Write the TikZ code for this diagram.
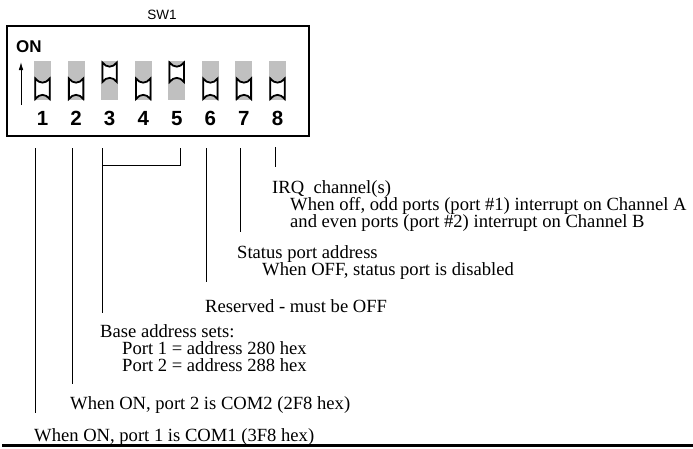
\documentclass[tikz,border=0pt]{standalone}
\usepackage{fontspec}
\setmainfont{Liberation Serif}
\newfontfamily\labelsans{Liberation Sans}
\usetikzlibrary{arrows.meta}
\definecolor{swgray}{RGB}{192,192,192}
\begin{document}
\begin{tikzpicture}[x=1pt,y=-1pt,
  sbox/.style={draw, line width=2.2pt, inner sep=0pt, minimum width=302pt, minimum height=110.5pt, anchor=north west},
  slot/.style={fill=swgray},
  actuator/.style={draw, fill=white, line width=1.8pt, line join=miter},
  lead/.style={line width=0.9pt},
  note/.style={anchor=base west, inner sep=0pt, font=\fontsize{18.6}{18.6}\selectfont},
  num/.style={anchor=base, inner sep=0pt, font=\labelsans\bfseries\fontsize{20.5}{20.5}\selectfont},
  onlabel/.style={anchor=base west, inner sep=0pt, font=\labelsans\bfseries\fontsize{17}{17}\selectfont},
  title/.style={anchor=base, inner sep=0pt, font=\labelsans\fontsize{13.5}{13.5}\selectfont},
  rule/.style={line width=2.8pt}
]
\useasboundingbox (0,0) rectangle (693,448);

% switch housing
\node[sbox] (box) at (6,24.7) {};
\node[title] (sw) at (162,19.5) {SW1};
\node[onlabel] (on) at (16,52) {ON};
\coordinate (arrtail) at (21,105);
\coordinate (arrtip) at (21,62);
\draw[line width=0.8pt, -{Latex[length=8pt,width=4.5pt]}] (arrtail) -- (arrtip);

% switches
\foreach \i/\up in {1/0,2/0,3/1,4/0,5/1,6/0,7/0,8/0}{
  \pgfmathsetmacro{\lft}{34+33.57*(\i-1)}
  \pgfmathsetmacro{\a}{\lft+1.3}
  \pgfmathsetmacro{\b}{\lft+15.7}
  \pgfmathsetmacro{\t}{\up==1 ? 62.5 : 78.5}
  \pgfmathsetmacro{\u}{\up==1 ? 82 : 99}
  \fill[slot] (\lft,61) rectangle ({\lft+17},100);
  \draw[actuator] (\a,\t) .. controls ({\a+4},{\t+5.5}) and ({\b-4},{\t+5.5}) .. (\b,\t)
     -- (\b,\u) .. controls ({\b-4},{\u-5.5}) and ({\a+4},{\u-5.5}) .. (\a,\u) -- cycle;
  \node[num] (n\i) at ({\lft+8.5},125) {\i};
}

% lead coordinates
\coordinate (t1) at (35,148);    \coordinate (e1) at (35,413);
\coordinate (t2) at (72,148);    \coordinate (e2) at (72,384);
\coordinate (t3) at (102.5,148); \coordinate (e3) at (102.5,313);
\coordinate (t5) at (180,148);   \coordinate (k5) at (180,165); \coordinate (k3) at (102.5,165);
\coordinate (t6) at (206,148);   \coordinate (e6) at (206,282);
\coordinate (t7) at (240.5,148); \coordinate (e7) at (240.5,232);
\coordinate (t8) at (275,147);   \coordinate (e8) at (275,167);

\draw[lead] (t1) -- (e1);
\draw[lead] (t2) -- (e2);
\draw[lead] (t3) -- (e3);
\draw[lead] (t5) -- (k5) -- (k3);
\draw[lead] (t6) -- (e6);
\draw[lead] (t7) -- (e7);
\draw[lead] (t8) -- (e8);

% notes
\node[note] (irq)  at (272,193) {IRQ\ \ channel(s)};
\node[note] (irqa) at (290,210) {When off, odd ports (port \#1) interrupt on Channel A};
\node[note] (irqb) at (290,227) {and even ports (port \#2) interrupt on Channel B};
\node[note] (st)   at (237,258) {Status port address};
\node[note] (sta)  at (262,275) {When OFF, status port is disabled};
\node[note] (res)  at (205,312) {Reserved - must be OFF};
\node[note] (base) at (100,337) {Base address sets:};
\node[note] (p1)   at (122,354) {Port 1 = address 280 hex};
\node[note] (p2)   at (122,371) {Port 2 = address 288 hex};
\node[note] (com2) at (70,409)  {When ON, port 2 is COM2 (2F8 hex)};
\node[note] (com1) at (34,441)  {When ON, port 1 is COM1 (3F8 hex)};

% bottom rule
\coordinate (r0) at (2,445.5);
\coordinate (r1) at (693,445.5);
\draw[rule] (r0) -- (r1);
\end{tikzpicture}
\end{document}
